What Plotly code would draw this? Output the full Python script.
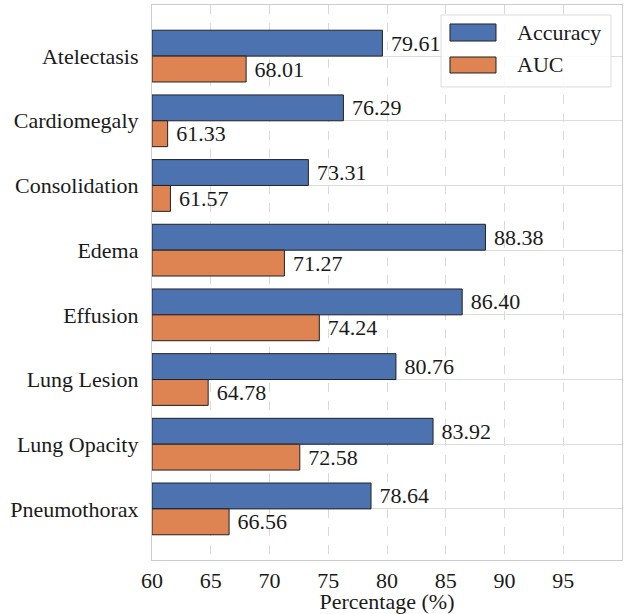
import plotly.graph_objects as go

categories = ["Atelectasis", "Cardiomegaly", "Consolidation", "Edema",
              "Effusion", "Lung Lesion", "Lung Opacity", "Pneumothorax"]
accuracy = [79.61, 76.29, 73.31, 88.38, 86.40, 80.76, 83.92, 78.64]
auc = [68.01, 61.33, 61.57, 71.27, 74.24, 64.78, 72.58, 66.56]
x_ticks = [60, 65, 70, 75, 80, 85, 90, 95]
series = [("Accuracy", accuracy, "#4c72b0"), ("AUC", auc, "#dd8452")]

FONT = "Liberation Serif, Times New Roman, serif"
BASE = 60
TXT = "#1a1a1a"

fig = go.Figure()
for name, vals, color in series:
    fig.add_trace(go.Bar(
        y=categories, x=[v - BASE for v in vals], base=BASE, orientation="h",
        name=name, marker=dict(color=color, line=dict(color="#222222", width=1)),
        text=[f"\u00a0{v:.2f}" for v in vals], textposition="outside",
        textfont=dict(family=FONT, size=22, color=TXT),
        constraintext="none", cliponaxis=False, showlegend=False,
    ))

# custom legend (matplotlib-style box with large swatches), paper coordinates
shapes = [dict(type="rect", xref="paper", yref="paper",
               x0=0.6149, x1=0.9766, y0=0.8523, y1=0.9820,
               fillcolor="rgba(255,255,255,0.85)", line=dict(color="#dcdcdc", width=1))]
annotations = []
leg_rows = [(0.9351, 0.9658, 0.9505), (0.8775, 0.9063, 0.8919)]
for (name, _, color), (y0, y1, yc) in zip(series, leg_rows):
    shapes.append(dict(type="rect", xref="paper", yref="paper",
                       x0=0.634, x1=0.7319, y0=y0, y1=y1,
                       fillcolor=color, line=dict(color="#222222", width=1)))
    annotations.append(dict(xref="paper", yref="paper", x=0.7723, y=yc,
                            xanchor="left", yanchor="middle", showarrow=False,
                            text=name, font=dict(family=FONT, size=22, color=TXT)))

fig.update_layout(
    width=627, height=614,
    margin=dict(l=152, r=5, t=5, b=54),
    paper_bgcolor="white", plot_bgcolor="white",
    font=dict(family=FONT, size=22, color=TXT),
    barmode="group", bargap=0.2, bargroupgap=0,
    showlegend=False,
    shapes=shapes, annotations=annotations,
    xaxis=dict(range=[60, 100], tickvals=x_ticks, showgrid=True, automargin=False,
               gridcolor="#d9d9d9", griddash="dash", gridwidth=1,
               showline=True, linecolor="#cccccc", linewidth=1.2, mirror=True,
               zeroline=False, ticks="",
               tickfont=dict(family=FONT, size=22, color=TXT),
               title=dict(text="Percentage (%)", standoff=0,
                          font=dict(family=FONT, size=22, color=TXT))),
    yaxis=dict(autorange=False, range=[7.79, -0.79], type="category", automargin=False,
               categoryorder="array", categoryarray=categories,
               showgrid=True, gridcolor="#dddddd", gridwidth=1,
               showline=True, linecolor="#cccccc", linewidth=1.2, mirror=True,
               ticks="", ticklabelstandoff=8,
               tickfont=dict(family=FONT, size=22, color=TXT)),
)

fig.write_html("out.html", config={"displayModeBar": False},
               post_script="document.body.style.margin='0';document.body.style.overflow='hidden';")
